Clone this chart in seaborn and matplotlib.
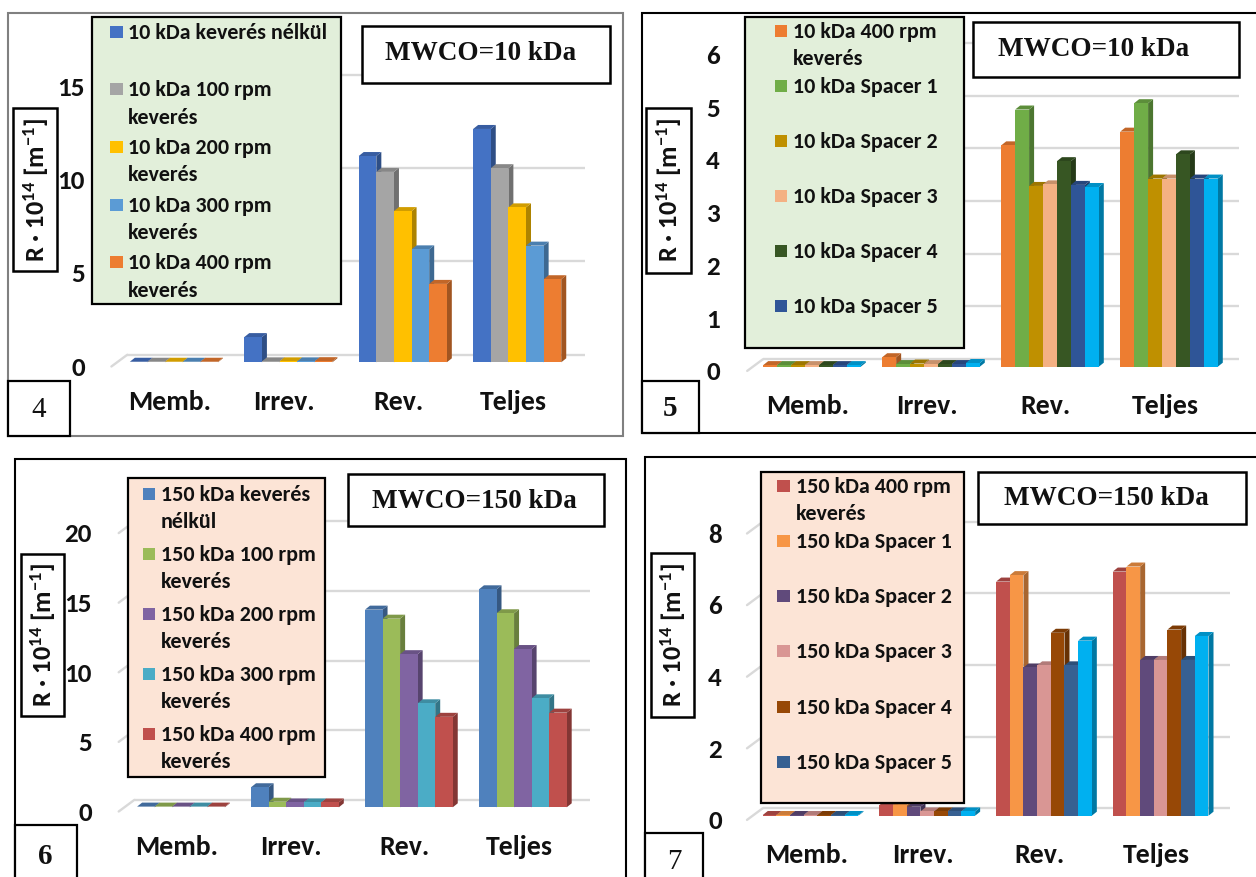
import textwrap

import matplotlib
matplotlib.use("Agg")
import matplotlib.pyplot as plt
import matplotlib.transforms as mtransforms
import numpy as np
import pandas as pd
import seaborn as sns
from matplotlib.colors import to_rgb
from matplotlib.patches import Polygon, Rectangle

sns.set_theme(style="white")
plt.rcParams["font.family"] = ["Carlito", "DejaVu Sans"]
plt.rcParams["mathtext.fontset"] = "custom"
plt.rcParams["mathtext.rm"] = "Carlito:bold"
plt.rcParams["mathtext.bf"] = "Carlito:bold"
plt.rcParams["mathtext.default"] = "bf"

# ---------------------------------------------------------------- data
categories = ["Memb.", "Irrev.", "Rev.", "Teljes"]

# 10 kDa membrane, stirring speed
names_10_stir = ["10 kDa keverés nélkül", "10 kDa 100 rpm keverés",
                 "10 kDa 200 rpm keverés", "10 kDa 300 rpm keverés",
                 "10 kDa 400 rpm keverés"]
colors_10_stir = ["#4472C4", "#A5A5A5", "#FFC000", "#5B9BD5", "#ED7D31"]
p4_memb = [0.03, 0.03, 0.03, 0.03, 0.03]
p4_irrev = [1.35, 0.05, 0.05, 0.05, 0.06]
p4_rev = [11.05, 10.2, 8.1, 6.05, 4.2]
p4_teljes = [12.5, 10.4, 8.3, 6.25, 4.45]

# 10 kDa membrane, spacers
names_10_spacer = ["10 kDa 400 rpm keverés", "10 kDa Spacer 1", "10 kDa Spacer 2",
                   "10 kDa Spacer 3", "10 kDa Spacer 4", "10 kDa Spacer 5",
                   "10 kDa Spacer 6"]
colors_10_spacer = ["#ED7D31", "#70AD47", "#BF9000", "#F4B183", "#375623",
                    "#2F5597", "#00B0F0"]
p5_memb = [0.03, 0.03, 0.03, 0.03, 0.03, 0.03, 0.03]
p5_irrev = [0.18, 0.05, 0.06, 0.05, 0.05, 0.05, 0.07]
p5_rev = [4.2, 4.88, 3.43, 3.46, 3.9, 3.45, 3.41]
p5_teljes = [4.46, 5.0, 3.57, 3.57, 4.03, 3.57, 3.57]

# 150 kDa membrane, stirring speed
names_150_stir = ["150 kDa keverés nélkül", "150 kDa 100 rpm keverés",
                  "150 kDa 200 rpm keverés", "150 kDa 300 rpm keverés",
                  "150 kDa 400 rpm keverés"]
colors_150_stir = ["#4F81BD", "#9BBB59", "#8064A2", "#4BACC6", "#C0504D"]
p6_memb = [0.05, 0.05, 0.05, 0.05, 0.05]
p6_irrev = [1.44, 0.4, 0.35, 0.35, 0.35]
p6_rev = [14.2, 13.55, 11.0, 7.47, 6.5]
p6_teljes = [15.66, 13.94, 11.37, 7.83, 6.8]

# 150 kDa membrane, spacers
names_150_spacer = ["150 kDa 400 rpm keverés", "150 kDa Spacer 1", "150 kDa Spacer 2",
                    "150 kDa Spacer 3", "150 kDa Spacer 4", "150 kDa Spacer 5",
                    "150 kDa Spacer 6"]
colors_150_spacer = ["#C0504D", "#F79646", "#604A7B", "#D99694", "#974806",
                     "#376092", "#00B0F0"]
p7_memb = [0.02, 0.02, 0.02, 0.02, 0.02, 0.02, 0.02]
p7_irrev = [0.3, 0.3, 0.25, 0.12, 0.12, 0.12, 0.12]
p7_rev = [6.54, 6.72, 4.14, 4.2, 5.11, 4.2, 4.89]
p7_teljes = [6.82, 6.96, 4.35, 4.35, 5.2, 4.35, 5.02]

# ---------------------------------------------------------------- figure
W, H = 1256, 877
fig = plt.figure(figsize=(W / 100, H / 100), dpi=100)
fig.patch.set_facecolor("white")
INK = "#111111"


def px_rect(x0, y0, x1, y1, **kw):
    r = Rectangle((x0 / W, 1 - y1 / H), (x1 - x0) / W, (y1 - y0) / H,
                  transform=fig.transFigure, **kw)
    fig.add_artist(r)
    return r


def px_text(x, y, s, **kw):
    return fig.text(x / W, 1 - y / H, s, **kw)


def shade(color, f):
    return tuple(np.clip(np.array(to_rgb(color)) * f, 0, 1))


def long_table(names, memb, irrev, rev, teljes):
    rows = []
    for k, name in enumerate(names):
        for cat, vals in zip(categories, (memb, irrev, rev, teljes)):
            rows.append({"kategoria": cat, "sorozat": name, "R": vals[k]})
    return pd.DataFrame(rows)


def draw_panel(df, names, colors, lay):
    left, right, base, top, ymax = lay["axes"]
    ax = fig.add_axes([left / W, 1 - base / H, (right - left) / W, (base - top) / H])
    ax.set_facecolor("none")
    sns.barplot(data=df, x="kategoria", y="R", hue="sorozat", order=categories,
                hue_order=names, palette=colors, width=lay["width"], saturation=1,
                legend=False, ax=ax)
    ax.set_xlim(-0.5, 3.5)
    ax.set_ylim(0, ymax)
    for s in ax.spines.values():
        s.set_visible(False)
    ax.set_xlabel("")
    ax.set_ylabel("")
    ax.grid(False)

    ppx = (right - left) / 4.0
    ppy = (base - top) / ymax

    # back wall gridlines and the slanted side-wall segments
    gdx, gdy = 10.5 / ppx, 7.5 / ppy
    fdx, fdy = -5.3 / ppx, -4.2 / ppy
    for t in lay["ticks"]:
        ax.plot([-0.5 + gdx, 3.5 + gdx], [t + gdy, t + gdy], color="#D9D9D9",
                lw=1.7, zorder=0.5, clip_on=False, solid_capstyle="butt")
        ax.plot([-0.5 + fdx, -0.5 + gdx], [t + fdy, t + gdy], color="#D9D9D9",
                lw=1.7, zorder=0.5, clip_on=False)

    # depth faces of each bar
    bdx, bdy = 5.0 / ppx, 4.0 / ppy
    for k, cont in enumerate(ax.containers):
        col = colors[k]
        for bar in cont:
            x0 = bar.get_x()
            x1 = x0 + bar.get_width()
            h = bar.get_height()
            bar.set_zorder(2 + k * 0.1 + 0.05)
            bar.set_edgecolor("none")
            side = Polygon([(x1, 0), (x1 + bdx, bdy), (x1 + bdx, h + bdy), (x1, h)],
                           closed=True, facecolor=shade(col, 0.68), edgecolor="none",
                           zorder=2 + k * 0.1, clip_on=False)
            cap = Polygon([(x0, h), (x0 + bdx, h + bdy), (x1 + bdx, h + bdy), (x1, h)],
                          closed=True, facecolor=shade(col, 0.82), edgecolor="none",
                          zorder=2 + k * 0.1, clip_on=False)
            ax.add_patch(side)
            ax.add_patch(cap)

    ax.set_yticks(lay["ticks"])
    ax.set_yticklabels([f"{t:g}" for t in lay["ticks"]])
    ax.tick_params(axis="y", length=0, pad=lay["ypad"], labelsize=19.5, labelcolor=INK)
    ax.tick_params(axis="x", length=0, pad=28.4, labelsize=20, labelcolor=INK)
    down = mtransforms.ScaledTranslation(0, -0.04, fig.dpi_scale_trans)
    shift_left = mtransforms.ScaledTranslation(-0.04, 0, fig.dpi_scale_trans)
    for lbl in ax.get_yticklabels():
        lbl.set_fontweight("bold")
        lbl.set_transform(lbl.get_transform() + down)
    for lbl in ax.get_xticklabels():
        lbl.set_fontweight("bold")
        lbl.set_va("center")
        lbl.set_transform(lbl.get_transform() + shift_left)

    # panel frame
    bx = lay["border"]
    px_rect(*bx, facecolor="none", edgecolor=lay["border_color"], lw=1.5, zorder=0.2)

    # key box
    kx0, ky0, kx1, ky1 = lay["key_box"]
    px_rect(kx0, ky0, kx1, ky1, facecolor=lay["key_fill"], edgecolor="black", lw=1.6, zorder=5)
    mx, tx, y0, step, line_h = lay["key_rows"]
    for i in range(lay["key_n"]):
        y = y0 + i * step
        px_rect(mx, y - 6, mx + 12.5, y + 6, facecolor=colors[i], edgecolor="none", zorder=6)
        for j, ln in enumerate(textwrap.wrap(names[i], 21)):
            px_text(tx, y + j * line_h + 1, ln, ha="left", va="center", fontsize=15.8,
                    fontweight="bold", color=INK, zorder=7)

    # MWCO box
    m = lay["mwco_box"]
    px_rect(*m, facecolor="white", edgecolor="black", lw=1.8, zorder=5)
    px_text(lay["mwco_xy"][0], lay["mwco_xy"][1], lay["mwco"], ha="center", va="center",
            fontsize=19.5, fontweight="bold", family="Liberation Serif", color=INK, zorder=7)

    # axis title box
    yb = lay["ylab_box"]
    px_rect(*yb, facecolor="white", edgecolor="black", lw=1.8, zorder=5)
    px_text((yb[0] + yb[2]) / 2 + 1, (yb[1] + yb[3]) / 2, r"R · 10$^{14}$ [m$^{-1}$]",
            rotation=90, ha="center", va="center", fontsize=19, fontweight="bold",
            color=INK, zorder=7)

    # panel number box
    nb = lay["num_box"]
    px_rect(*nb, facecolor="white", edgecolor="black", lw=1.6, zorder=5)
    px_text(lay["num_xy"][0], lay["num_xy"][1], lay["num"], ha="center", va="center",
            fontsize=21, fontweight=lay["num_weight"], family="Liberation Serif",
            color=INK, zorder=7)
    return ax


layout_4 = dict(axes=(116.7, 574.4, 362.3, 82.3, 15), ticks=[0, 5, 10, 15], width=0.77,
                ypad=22.8, border=(8, 13, 623, 436), border_color="#808080",
                key_box=(91.6, 16.7, 340.6, 304.3), key_fill="#E2EFDA",
                key_rows=(110, 127.7, 31.7, 57.65, 27.4), key_n=5,
                mwco_box=(362, 26, 609.6, 83.3), mwco_xy=(481, 53), mwco="MWCO=10 kDa",
                ylab_box=(13.3, 108, 57.4, 270.7),
                num_box=(8.3, 381, 70, 436), num_xy=(39, 410), num="4", num_weight="normal")

layout_5 = dict(axes=(752.5, 1228.5, 366.7, 50.5, 6), ticks=[0, 1, 2, 3, 4, 5, 6], width=0.82,
                ypad=23.4, border=(642, 13, 1262, 433), border_color="black",
                key_box=(744.8, 17.3, 964.4, 347.7), key_fill="#E2EFDA",
                key_rows=(774.8, 793.2, 30.7, 55.0, 27.6), key_n=6,
                mwco_box=(972.8, 21.7, 1239.2, 76.7), mwco_xy=(1094, 50), mwco="MWCO=10 kDa",
                ylab_box=(646, 107.7, 691, 272.7),
                num_box=(641.7, 381, 699.3, 433), num_xy=(670, 408), num="5", num_weight="bold")

layout_6 = dict(axes=(124, 579.8, 807.3, 528.9, 20), ticks=[0, 5, 10, 15, 20], width=0.77,
                ypad=23.3, border=(15, 459, 626, 885), border_color="black",
                key_box=(127.7, 478.3, 324.5, 777.3), key_fill="#FCE4D6",
                key_rows=(142.6, 160.6, 494.3, 60.0, 27.0), key_n=5,
                mwco_box=(347.8, 474, 604.4, 525.7), mwco_xy=(474, 501.7), mwco="MWCO=150 kDa",
                ylab_box=(21, 554, 63.5, 715.7),
                num_box=(15, 825, 76.7, 885), num_xy=(45, 857), num="6", num_weight="bold")

layout_7 = dict(axes=(752.3, 1219, 815.7, 529.3, 8), ticks=[0, 2, 4, 6, 8], width=0.82,
                ypad=21.8, border=(645, 457, 1262, 885), border_color="black",
                key_box=(761.2, 471.7, 964.4, 803.3), key_fill="#FCE4D6",
                key_rows=(777, 796, 485.7, 55.2, 27.0), key_n=6,
                mwco_box=(978, 471.7, 1246, 524), mwco_xy=(1106, 498.3), mwco="MWCO=150 kDa",
                ylab_box=(651, 553, 694, 716.7),
                num_box=(645, 832.7, 702.7, 885), num_xy=(674, 862), num="7", num_weight="normal")

draw_panel(long_table(names_10_stir, p4_memb, p4_irrev, p4_rev, p4_teljes),
           names_10_stir, colors_10_stir, layout_4)
draw_panel(long_table(names_10_spacer, p5_memb, p5_irrev, p5_rev, p5_teljes),
           names_10_spacer, colors_10_spacer, layout_5)
draw_panel(long_table(names_150_stir, p6_memb, p6_irrev, p6_rev, p6_teljes),
           names_150_stir, colors_150_stir, layout_6)
draw_panel(long_table(names_150_spacer, p7_memb, p7_irrev, p7_rev, p7_teljes),
           names_150_spacer, colors_150_spacer, layout_7)

fig.savefig("out.png", dpi=100, facecolor="white")
